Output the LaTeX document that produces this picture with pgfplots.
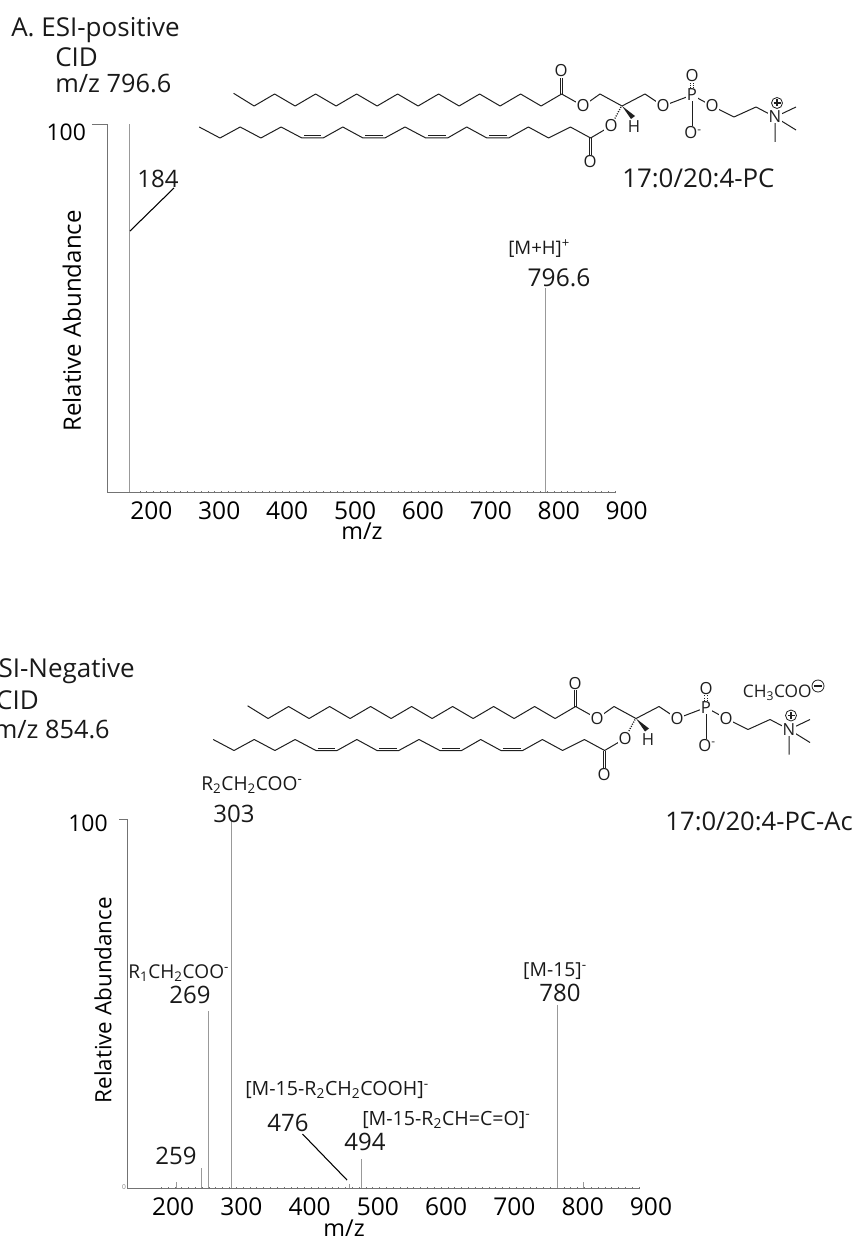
\documentclass[border=0pt]{standalone}
\usepackage{pgfplots}
\pgfplotsset{compat=1.18}
\usepackage{fontspec}
\setmainfont{Open Sans}
\newcommand\fsz[1]{\fontsize{#1}{#1}\selectfont}
\definecolor{axisgray}{gray}{0.45}
\definecolor{peakgray}{gray}{0.6}
\definecolor{bond}{gray}{0.12}
\tikzset{
  atom/.style={font=\fsz{12.5},fill=white,inner sep=0.4pt,text=bond},
  txt/.style={inner sep=0pt,text=black!90},
}
\newcommand\lipid{%
  \draw[bond,line width=0.75pt,line join=round]
    (233.6,93.3)--(254.1,106)--(274.6,94)--(295.1,106)--(315.6,94)--(336.1,106)--(356.6,94)--(377.1,106)--(397.6,94)--(418.1,106)--(438.6,94)--(459.1,106)--(479.6,94)--(500.1,106)--(520.6,94)--(541.1,106)--(561.6,94)--(583,106)--(600,94)--(622,106)--(645,94)--(663,106)--(692,95)--(712,106)--(734,117)--(756,107)--(775,117);
  \draw[bond,line width=0.75pt] (560.4,94)--(560.4,73) (562.8,94)--(562.8,73);
  \draw[bond,line width=0.75pt] (692,95)--(692,133);
  \draw[bond,line width=0.75pt,densely dotted] (690.8,93)--(690.8,78) (693.4,93)--(693.4,78);
  \draw[bond,line width=0.75pt] (775,117)--(796,107) (775,117)--(796,130) (775,117)--(775,142);
  \draw[bond,line width=0.75pt,line join=round]
    (199.2,127)--(220,138)--(240.2,127)--(260.9,138)--(281.1,127)--(301.9,138)--(323.1,138)--(342.8,127)--(363,138)--(384.8,138)--(405,127)--(425.8,138)--(447.6,138)--(466.7,127)--(486.9,138)--(508.7,138)--(528.4,127)--(548.6,138)--(570.4,127)--(590.6,138)--(611,126);
  \draw[bond,line width=0.75pt] (304,135.5)--(321,135.5) (365,135.5)--(383,135.5) (428,135.5)--(445.5,135.5) (489,135.5)--(506.5,135.5);
  \draw[bond,line width=0.75pt] (589.4,138)--(589.4,158) (591.8,138)--(591.8,158);
  \fill[bond] (622,106)--(631,119)--(635,116)--cycle;
  \draw[bond,line width=1pt,dash pattern=on 0.8pt off 1pt] (621,107)--(613,122);
  \node[atom] at (561,71) {O};
  \node[atom] at (583,106) {O};
  \node[atom] at (663,106) {O};
  \node[atom] at (692,95) {P};
  \node[atom] at (692,76) {O};
  \node[atom] at (712,106) {O};
  \node[atom] at (775,117) {N};
  \node[atom] at (693,133) {O\textsuperscript{-}};
  \node[atom] at (611,126) {O};
  \node[atom] at (590,162) {O};
  \node[atom] at (634,127) {H};
  \draw[bond,line width=0.6pt] (777,103) circle (5.5);
  \draw[bond,line width=0.9pt] (773.5,103)--(780.5,103) (777,99.5)--(777,106.5);
}
\pgfplotsset{
  spec/.style={
    scale only axis,
    axis x line*=bottom, axis y line*=left,
    axis line style={axisgray,line width=0.6pt},
    ymin=0, ymax=100,
    xtick={200,300,...,900},
    minor x tick num=9,
    ytick=\empty,
    tick style={axisgray,line width=0.4pt},
    major tick length=2.2pt, minor tick length=1.4pt,
    tick align=center,
    clip=false,
    tick label style={font=\fsz{18.4}},
    /pgf/number format/assume math mode=true,
    label style={font=\fsz{17.5}},
    ylabel={Relative Abundance},
    xlabel={m/z},
  },
  peak/.style={ycomb,peakgray,line width=0.6pt,no markers},
}
\begin{document}
\begin{tikzpicture}
\path[use as bounding box] (0,0) rectangle (642pt,-927.75pt);
% ---- panel A
\begin{axis}[spec,
  at={(107*0.75pt,-492*0.75pt)}, anchor=south west,
  width=508.5*0.75pt, height=368*0.75pt,
  xmin=151.6, xmax=900.4,
  xticklabel style={xshift=8.6pt,yshift=-2.5pt},
  extra y ticks={100}, extra y tick labels={100},
  extra y tick style={major tick length=11.25pt,tick align=outside,
    yticklabel style={font=\fsz{17.2},yshift=-6pt,xshift=-1pt}},
  x label style={at={(axis description cs:0.5015,-0.106)},anchor=center},
  y label style={font=\fsz{18},at={(axis description cs:-0.069,0.465)},anchor=center},
]
\addplot[peak] coordinates {(184,100) (796.6,55.4)};
\end{axis}
% ---- panel B
\begin{axis}[spec,
  at={(127*0.75pt,-1188*0.75pt)}, anchor=south west,
  width=512*0.75pt, height=369*0.75pt,
  xmin=150, xmax=900,
  xticklabel style={xshift=9pt,yshift=-3pt},
  extra y ticks={100}, extra y tick labels={100},
  extra y tick style={major tick length=6pt,tick align=outside,
    yticklabel style={font=\fsz{17.2},yshift=-3pt,xshift=-5pt}},
  x label style={at={(axis description cs:0.424,-0.108)},anchor=center},
  y label style={font=\fsz{16.8},at={(axis description cs:-0.047,0.509)},anchor=center},
]
\addplot[peak] coordinates {(223,1.6) (259,5.4) (269,48) (303,100) (476,1) (494,7.9) (780,49.6) (818,1.6)};
\end{axis}
% ---- overlays
\begin{scope}[x=0.75pt,y=-0.75pt]
\clip (0,0) rectangle (856,1237);
% panel A text
\node[txt,anchor=west,font=\fsz{19.5}] at (11,30) {A. ESI-positive};
\node[txt,anchor=west,font=\fsz{19.5}] at (55,57) {CID};
\node[txt,anchor=west,font=\fsz{19}] at (55,84) {m/z 796.6};
\node[txt,font=\fsz{18}] at (158,179) {184};
\draw[black,line width=0.8pt] (130,231)--(174,188);
\node[txt,anchor=west,font=\fsz{14}] at (508,249) {[M+H]\textsuperscript{+}};
\node[txt,font=\fsz{18.4}] at (559,278) {796.6};
\node[txt,anchor=west,font=\fsz{19.4}] at (622,178) {17:0/20:4-PC};
\lipid
% panel B text
\node[txt,anchor=east,font=\fsz{19.5}] at (135,671) {SI-Negative};
\node[txt,anchor=east,font=\fsz{19.5}] at (39,700) {CID};
\node[txt,anchor=east,font=\fsz{19}] at (110,729) {m/z 854.6};
\node[txt,anchor=west,font=\fsz{14.4}] at (201,785) {R\textsubscript{2}CH\textsubscript{2}COO\textsuperscript{-}};
\node[txt,font=\fsz{18}] at (234,814) {303};
\node[txt,anchor=west,font=\fsz{14.3}] at (128,973) {R\textsubscript{1}CH\textsubscript{2}COO\textsuperscript{-}};
\node[txt,font=\fsz{18}] at (190,995) {269};
\node[txt,font=\fsz{14.5}] at (555,971) {[M-15]\textsuperscript{-}};
\node[txt,font=\fsz{18}] at (560,993) {780};
\node[txt,anchor=west,font=\fsz{14.7}] at (245,1090) {[M-15-R\textsubscript{2}CH\textsubscript{2}COOH]\textsuperscript{-}};
\node[txt,font=\fsz{18}] at (288,1123) {476};
\draw[black,line width=0.8pt] (302.5,1134)--(347,1180);
\node[txt,anchor=west,font=\fsz{14.7}] at (362,1120) {[M-15-R\textsubscript{2}CH=C=O]\textsuperscript{-}};
\node[txt,font=\fsz{18}] at (365,1142) {494};
\node[txt,font=\fsz{18}] at (176,1156) {259};
\node[txt,anchor=east,font=\fsz{19.2}] at (853,821) {17:0/20:4-PC-Ac};
\node[txt,font=\fsz{5},text=gray] at (124,1187) {0};
\begin{scope}[shift={(14,612.5)}]
\lipid
\end{scope}
\node[atom,anchor=west,font=\fsz{13}] at (742,693) {CH\textsubscript{3}COO};
\draw[bond,line width=0.6pt] (818,686) circle (6);
\draw[bond,line width=0.9pt] (814,686)--(822,686);
\end{scope}
\end{tikzpicture}
\end{document}
